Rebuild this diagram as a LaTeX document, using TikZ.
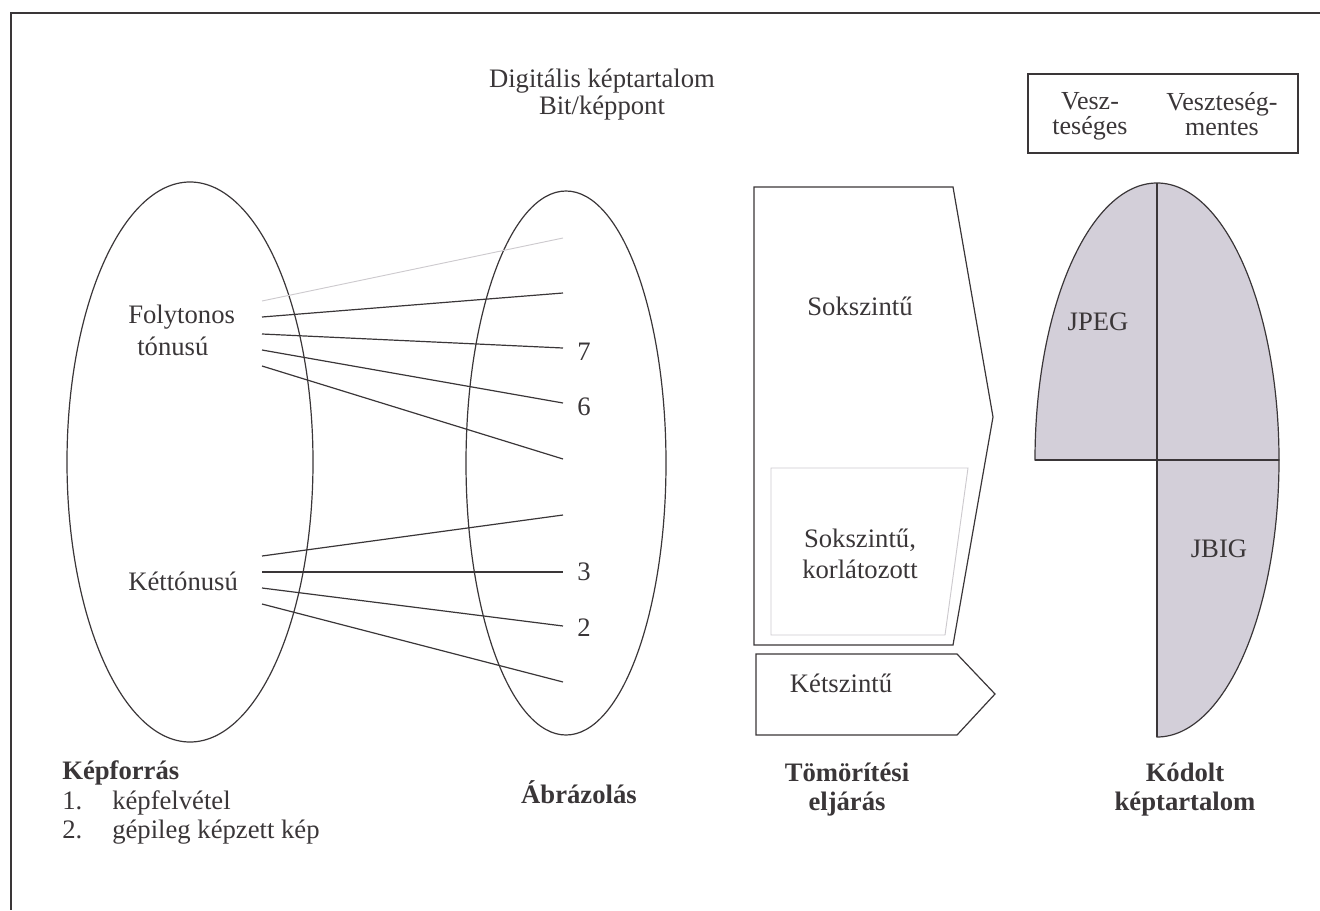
\documentclass[tikz,border=0pt]{standalone}
\usepackage{fontspec}
\setmainfont{Liberation Serif}
\usetikzlibrary{shapes.geometric}
\definecolor{ink}{RGB}{58,54,56}
\definecolor{faint}{RGB}{205,202,206}
\definecolor{lav}{RGB}{211,207,217}
\begin{document}
\begin{tikzpicture}[x=0.75pt,y=-0.75pt,
  txt/.style={text=ink, font=\fontsize{20}{24}\selectfont, inner sep=0pt},
  btxt/.style={text=ink, font=\bfseries\fontsize{20}{24}\selectfont, inner sep=0pt},
  legtxt/.style={text=ink, font=\fontsize{19.5}{19}\selectfont, inner sep=0pt, align=center},
  conn/.style={draw=ink, line width=0.9pt},
  faintconn/.style={draw=faint, line width=0.7pt},
  oval/.style={ellipse, draw=ink, line width=0.9pt, inner sep=0pt},
  outline/.style={draw=ink, line width=0.9pt}]
\useasboundingbox (0,0) rectangle (1320,910);
% frame
\draw[outline] (1320,13) -- (11,13) -- (11,910);

% ellipses
\node[oval, minimum width=184.5pt, minimum height=420pt] (src) at (190,462) {};
\node[oval, minimum width=150pt, minimum height=408pt] (rep) at (566,463) {};

% top text
\node[txt, anchor=base] (dig1) at (602,87) {Digitális képtartalom};
\node[txt, anchor=base] (dig2) at (602,114) {Bit/képpont};

% left labels
\node[txt, anchor=base west] (fol1) at (128,323) {Folytonos};
\node[txt, anchor=base west] (fol2) at (137,355) {tónusú};
\node[txt, anchor=base west] (ket) at (128,590) {Kéttónusú};

% line ends
\coordinate (a1) at (262,301); \coordinate (b1) at (563,238);
\coordinate (a2) at (262,317); \coordinate (b2) at (563,293);
\coordinate (a3) at (262,334); \coordinate (b3) at (563,348);
\coordinate (a4) at (262,350); \coordinate (b4) at (563,403);
\coordinate (a5) at (262,366); \coordinate (b5) at (563,459);
\coordinate (a6) at (262,556); \coordinate (b6) at (563,515);
\coordinate (a7) at (262,572); \coordinate (b7) at (563,572);
\coordinate (a8) at (262,588); \coordinate (b8) at (563,626);
\coordinate (a9) at (262,604); \coordinate (b9) at (563,682);
\draw[faintconn] (a1) -- (b1);
\foreach \i in {2,...,9} {\draw[conn] (a\i) -- (b\i);}

% numbers
\node[txt, anchor=base] (n7) at (584,360) {7};
\node[txt, anchor=base] (n6) at (584,415) {6};
\node[txt, anchor=base] (n3) at (584,580) {3};
\node[txt, anchor=base] (n2) at (584,636) {2};

% compression shapes
\draw[outline] (754,187) -- (953,187) -- (993,417) -- (953,645) -- (754,645) -- cycle;
\draw[faintconn] (771,468) -- (968,468) -- (945,635) -- (771,635) -- cycle;
\draw[outline] (756,654) -- (957,654) -- (995,694) -- (957,735) -- (756,735) -- cycle;
\node[txt, anchor=base] (sok) at (860,315) {Sokszintű};
\node[txt, anchor=base] (sokk1) at (860,547) {Sokszintű,};
\node[txt, anchor=base] (sokk2) at (860,578) {korlátozott};
\node[txt, anchor=base] (ketsz) at (841,692) {Kétszintű};

% legend box
\node[draw=ink, line width=0.9pt, minimum width=202.5pt, minimum height=59.25pt, inner sep=0pt] (legend) at (1163,113.5) {};
\node[legtxt] (vl) at (1090,116) {Vesz-\\teséges};
\node[legtxt] (vr) at (1222,114) {Veszteség-\\mentes};

% coded content shape
\filldraw[fill=lav, draw=ink, line width=0.9pt] (1035,460) arc[start angle=180, end angle=360, x radius=122, y radius=277] -- cycle;
\filldraw[fill=lav, draw=ink, line width=0.9pt] (1279,460) arc[start angle=0, end angle=90, x radius=122, y radius=277] -- (1157,460) -- cycle;
\draw[outline] (1157,183) -- (1157,737);
\draw[outline] (1035,460) -- (1279,460);
\node[txt, anchor=base] (jpeg) at (1098,330) {JPEG};
\node[txt, anchor=base] (jbig) at (1219,557) {JBIG};

% bottom captions
\node[btxt, anchor=base west] (kf) at (62,779) {Képforrás};
\node[txt, anchor=base west] (k1n) at (62,809) {1.};
\node[txt, anchor=base west] (k1) at (112,809) {képfelvétel};
\node[txt, anchor=base west] (k2n) at (62,838) {2.};
\node[txt, anchor=base west] (k2) at (112,838) {gépileg képzett kép};
\node[btxt, anchor=base] (abr) at (579,803) {Ábrázolás};
\node[btxt, anchor=base] (tom1) at (847,781) {Tömörítési};
\node[btxt, anchor=base] (tom2) at (847,810) {eljárás};
\node[btxt, anchor=base] (kod1) at (1185,781) {Kódolt};
\node[btxt, anchor=base] (kod2) at (1185,810) {képtartalom};
\end{tikzpicture}
\end{document}
